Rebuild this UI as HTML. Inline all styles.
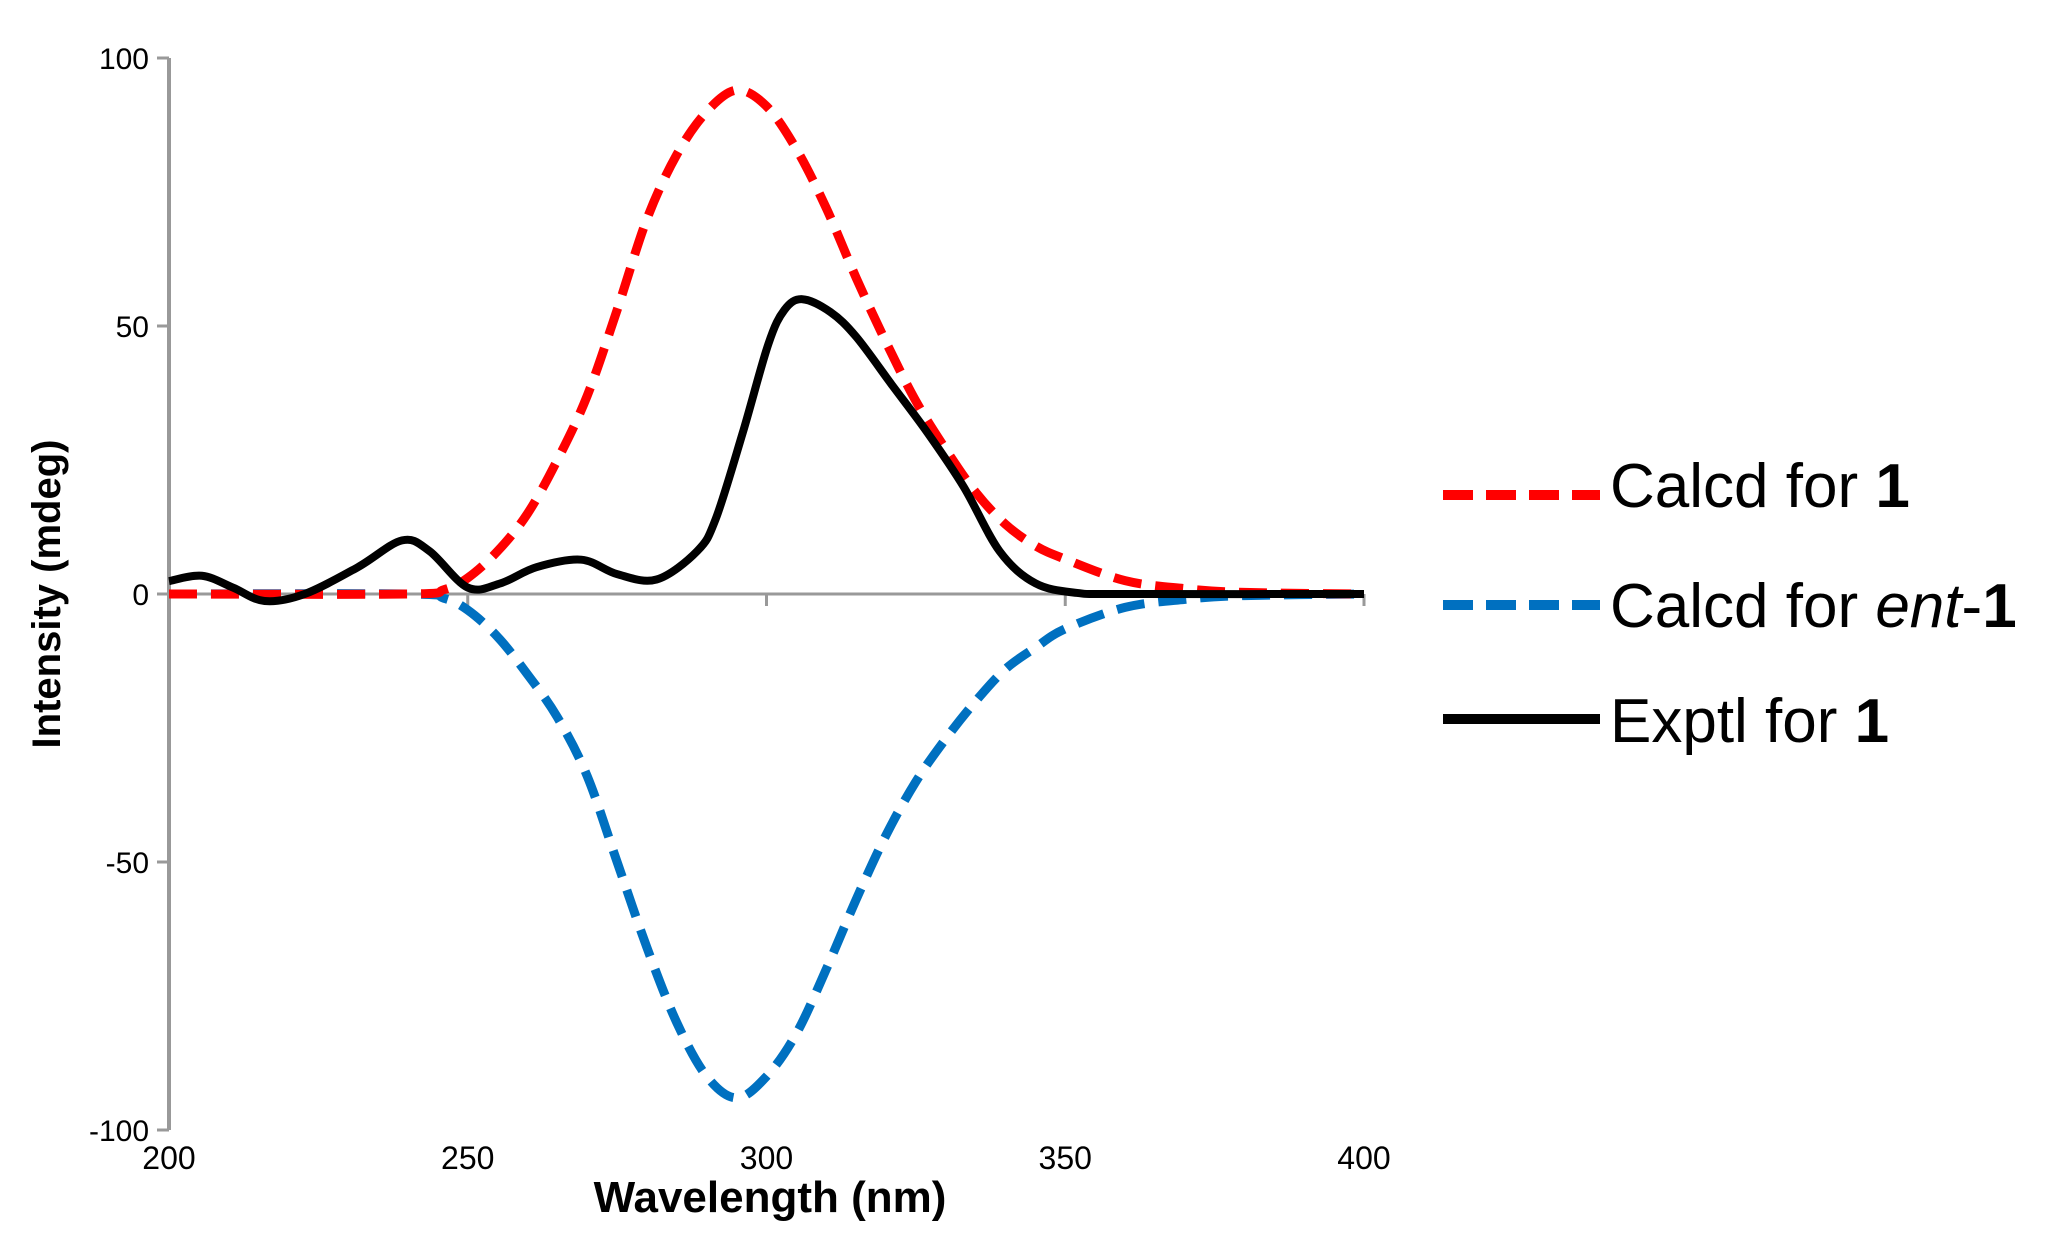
<!DOCTYPE html>
<html><head><meta charset="utf-8"><style>
html,body{margin:0;padding:0;background:#fff;}
svg{display:block;font-family:"Liberation Sans",Arial,sans-serif;}
</style></head><body>
<svg id="chart" width="2046" height="1253" viewBox="0 0 2046 1253">
<g id="axes"></g>
<g id="series"></g>
<text x="770" y="1212" font-size="44" font-weight="bold" text-anchor="middle">Wavelength (nm)</text>
<text transform="translate(60,594) rotate(-90)" font-size="40" font-weight="bold" text-anchor="middle">Intensity (mdeg)</text>
<g>
 <g>
  <line x1="1443" y1="495" x2="1600" y2="495" stroke="#ff0000" stroke-width="10" stroke-dasharray="30,13"/>
  <text x="1610" y="507" font-size="62">Calcd for <tspan font-weight="bold">1</tspan></text>
 </g>
 <g>
  <line x1="1443" y1="605" x2="1600" y2="605" stroke="#0070c0" stroke-width="10" stroke-dasharray="30,13"/>
  <text x="1610" y="627" font-size="62">Calcd for <tspan font-style="italic">ent</tspan>-<tspan font-weight="bold">1</tspan></text>
 </g>
 <g>
  <line x1="1443" y1="719" x2="1600" y2="719" stroke="#000" stroke-width="10"/>
  <text x="1610" y="742" font-size="62">Exptl for <tspan font-weight="bold">1</tspan></text>
 </g>
</g>
</svg>
<script>
const xTicks=[200,250,300,350,400];
const yTicks=[100,50,0,-50,-100];
const redX=[200,240,246,250,255,260,265,270,275,280,285,290,295,300,305,310,315,320,325,330,335,340,345,350,360,370,380,400];
const redY=[0,0,0.8,3,8,15,25,37,53,70,82,90,94,91,83,72,59,47,36,27,19,13,9,6.5,2.5,1,0.3,0];
const blueX=[200,240,246,250,255,260,265,270,275,280,285,290,295,300,305,310,315,320,325,330,335,340,345,350,360,370,380,400];
const blueY=[0,0,-0.8,-3,-8,-15,-23,-34,-50,-66,-80,-90,-94,-90,-82,-70,-57,-45,-35,-27,-20,-14,-10,-6.5,-2.5,-1,-0.3,0];
const blackX=[200,205.5,210.7,216,222.7,231.6,239,243.6,250,255.5,261.5,269,275,281.6,288.4,291.5,296,300.3,303,306,310.7,315,321,327,333,339,345,352,360,400];
const blackY=[2.4,3.4,1.2,-1.3,0,5,10,8,1.2,2,5,6.4,3.7,2.7,8,14,30,46.6,53,55,52.6,48,39,30,20,8,2,0.2,0,0];
const X0=169,X1=1364,Y0=594,YT=58,YB=1132;
function sx(v){return X0+(v-200)/(200)*(X1-X0);}
function sy(v){return Y0-v/100*(Y0-YT);}
const NS="http://www.w3.org/2000/svg";
const axes=document.getElementById('axes'),ser=document.getElementById('series');
function mk(tag,attrs,parent){const e=document.createElementNS(NS,tag);for(const k in attrs)e.setAttribute(k,attrs[k]);parent.appendChild(e);return e;}
let yl=mk('line',{x1:X0,y1:sy(100),x2:X0,y2:sy(-100),stroke:'#999','stroke-width':4},axes);


let xl=mk('line',{x1:X0,y1:Y0,x2:sx(400),y2:Y0,stroke:'#999','stroke-width':3},axes);


yTicks.forEach(v=>{
 let t=mk('line',{x1:X0-12,y1:sy(v),x2:X0,y2:sy(v),stroke:'#999','stroke-width':3},axes);
 
 
 let l=mk('text',{x:X0-20,y:sy(v)+11,'font-size':30,'text-anchor':'end'},axes);
 l.textContent=v;
 
 
});
xTicks.forEach(v=>{
 let t=mk('line',{x1:sx(v),y1:Y0,x2:sx(v),y2:Y0+12,stroke:'#999','stroke-width':3},axes);
 
 
 let l=mk('text',{x:sx(v),y:1169,'font-size':32,'text-anchor':'middle'},axes);
 l.textContent=v;
 
 
});
function path(xs,ys){
 const p=xs.map((x,i)=>[sx(x),sy(ys[i])]);
 let d='M'+p[0][0]+','+p[0][1];
 for(let i=0;i<p.length-1;i++){
  const p0=p[Math.max(0,i-1)],p1=p[i],p2=p[i+1],p3=p[Math.min(p.length-1,i+2)];
  const c1=[p1[0]+(p2[0]-p0[0])/6,p1[1]+(p2[1]-p0[1])/6];
  const c2=[p2[0]-(p3[0]-p1[0])/6,p2[1]-(p3[1]-p1[1])/6];
  d+=' C'+c1+' '+c2+' '+p2;
 }
 return d;
}
let b=mk('path',{d:path(blueX,blueY),fill:'none',stroke:'#0070c0','stroke-width':9,'stroke-dasharray':'28,14'},ser);


let r=mk('path',{d:path(redX,redY),fill:'none',stroke:'#ff0000','stroke-width':9,'stroke-dasharray':'28,14'},ser);


let k=mk('path',{d:path(blackX,blackY),fill:'none',stroke:'#000','stroke-width':8,'stroke-linejoin':'round'},ser);


</script>
</body></html>
